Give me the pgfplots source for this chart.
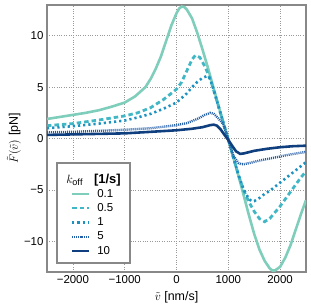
\documentclass[border=0pt]{standalone}
\usepackage{pgfplots}
\pgfplotsset{compat=1.18}
\usepackage{fontspec}
\setmainfont{Liberation Sans}
\definecolor{c1}{HTML}{7FCDBB}
\definecolor{c2}{HTML}{41B6C4}
\definecolor{c3}{HTML}{1D91C0}
\definecolor{c4}{HTML}{225EA8}
\definecolor{c5}{HTML}{103F7F}
\definecolor{frame}{HTML}{888888}
\begin{document}
\begin{tikzpicture}
\begin{axis}[
  scale only axis, width=259bp, height=267bp,
  xmin=-2500, xmax=2500, ymin=-13, ymax=13,
  xtick={-2000,-1000,0,1000,2000},
  xticklabels={−2000,−1000,0,1000,2000},
  ytick={-10,-5,0,5,10},
  yticklabels={−10,−5,0,5,10},
  major tick length=0pt,
  tick label style={font=\fontsize{11.5}{13}\selectfont},
  every axis x label/.style={at={([yshift=-25bp]axis description cs:0.5,0)}, anchor=center, font=\fontsize{12.5}{14}\selectfont},
  every axis y label/.style={at={([xshift=-33bp]axis description cs:0,0.5)}, anchor=center, rotate=90, font=\fontsize{12.5}{14}\selectfont},
  grid=major,
  major grid style={gray!80, dotted, line width=0.7pt},
  axis line style={frame, line width=1.3pt},
  xlabel={$\tilde{v}$ [nm/s]},
  ylabel={$\tilde{F}(\tilde{v})$ [pN]},
  legend cell align=left,
  legend style={at={(rel axis cs:0.081,0.038)}, anchor=south west,
    draw=none, fill=none,
    font=\fontsize{11.5}{13}\selectfont, row sep=0.8pt, column sep=5bp, inner ysep=4pt},
  legend image post style={line width=2.2pt},
]
\addlegendimage{empty legend}
\addlegendentry{\hspace*{-31bp}{\fontsize{13}{14}\selectfont$k_\mathrm{off}$}\hspace{11bp}{\fontsize{13}{14}\selectfont\textbf{[1/s]}}\rule[-11.5bp]{0pt}{1bp}}

\addplot[c1, line width=2.6pt] coordinates {
(-2500,1.9)(-2250,2.1)(-2000,2.3)(-1750,2.5)(-1500,2.75)(-1250,3.1)(-1000,3.5)(-800,4.1)(-600,5.0)(-500,5.8)(-400,6.8)(-300,8.0)(-200,9.5)(-100,11.0)(0,12.2)(50,12.65)(100,12.85)(150,12.8)(200,12.55)(300,11.7)(400,10.3)(500,8.7)(600,7.0)(700,5.2)(800,3.4)(900,1.6)(1000,-0.1)(1100,-1.9)(1200,-3.7)(1300,-5.6)(1400,-7.5)(1500,-9.3)(1600,-10.8)(1700,-11.9)(1800,-12.65)(1850,-12.85)(1900,-12.85)(2000,-12.5)(2100,-11.6)(2200,-10.4)(2300,-8.9)(2400,-7.4)(2500,-6.0)
};
\addlegendentry{0.1}

\addplot[c2, line width=2.8pt, dash pattern=on 4.5pt off 3pt] coordinates {
(-2500,1.25)(-2000,1.45)(-1500,1.8)(-1000,2.2)(-750,2.5)(-500,3.0)(-250,3.8)(0,4.8)(100,5.5)(200,6.6)(300,7.7)(365,8.1)(450,7.9)(550,7.0)(600,6.4)(650,5.8)(700,5.0)(800,3.3)(900,1.6)(1000,-0.1)(1100,-1.9)(1200,-3.6)(1300,-5.1)(1400,-6.2)(1500,-7.1)(1600,-7.8)(1700,-8.1)(1800,-7.8)(1900,-7.2)(2000,-6.6)(2100,-5.9)(2200,-5.2)(2300,-4.5)(2400,-3.8)(2500,-3.2)
};
\addlegendentry{0.5}

\addplot[c3, line width=2.6pt, dash pattern=on 2.2pt off 3pt] coordinates {
(-2500,1.0)(-2000,1.2)(-1500,1.45)(-1000,1.75)(-750,2.05)(-500,2.4)(-250,2.9)(0,3.5)(200,4.4)(300,5.0)(400,5.5)(500,5.9)(600,6.1)(650,5.8)(700,5.0)(750,4.2)(800,3.3)(900,1.6)(1000,-0.1)(1100,-1.9)(1200,-3.6)(1300,-5.0)(1400,-5.9)(1450,-6.1)(1500,-6.1)(1600,-5.8)(1700,-5.4)(1800,-5.1)(1900,-4.7)(2000,-4.3)(2200,-3.5)(2350,-2.9)(2500,-2.3)
};
\addlegendentry{1}

\addplot[c4, line width=2.4pt, dash pattern=on 1pt off 1pt] coordinates {
(-2500,0.6)(-2000,0.65)(-1500,0.75)(-1000,0.85)(-500,1.0)(0,1.3)(200,1.5)(400,1.9)(550,2.3)(650,2.5)(720,2.4)(800,2.0)(900,1.4)(950,0.7)(1000,-0.1)(1050,-0.9)(1100,-1.7)(1200,-2.4)(1250,-2.5)(1300,-2.5)(1400,-2.4)(1600,-2.15)(1800,-1.95)(2000,-1.75)(2200,-1.55)(2500,-1.3)
};
\addlegendentry{5}

\addplot[c5, line width=2.6pt] coordinates {
(-2500,0.35)(-2000,0.4)(-1500,0.45)(-1000,0.5)(-500,0.65)(0,0.8)(300,0.95)(500,1.1)(650,1.3)(720,1.35)(780,1.25)(850,0.9)(920,0.4)(1000,-0.15)(1080,-0.75)(1150,-1.25)(1230,-1.5)(1300,-1.45)(1500,-1.2)(1750,-1.0)(2000,-0.85)(2250,-0.75)(2500,-0.7)
};
\addlegendentry{10}

\draw[frame, line width=1.3pt, fill=white] (axis description cs:0.0386,0.0337) rectangle (axis description cs:0.3205,0.408);
\end{axis}
\pgfresetboundingbox
\path[use as bounding box] ([shift={(-47bp,-35bp)}]current axis.south west) rectangle ([shift={(5bp,5bp)}]current axis.north east);
\end{tikzpicture}
\end{document}
